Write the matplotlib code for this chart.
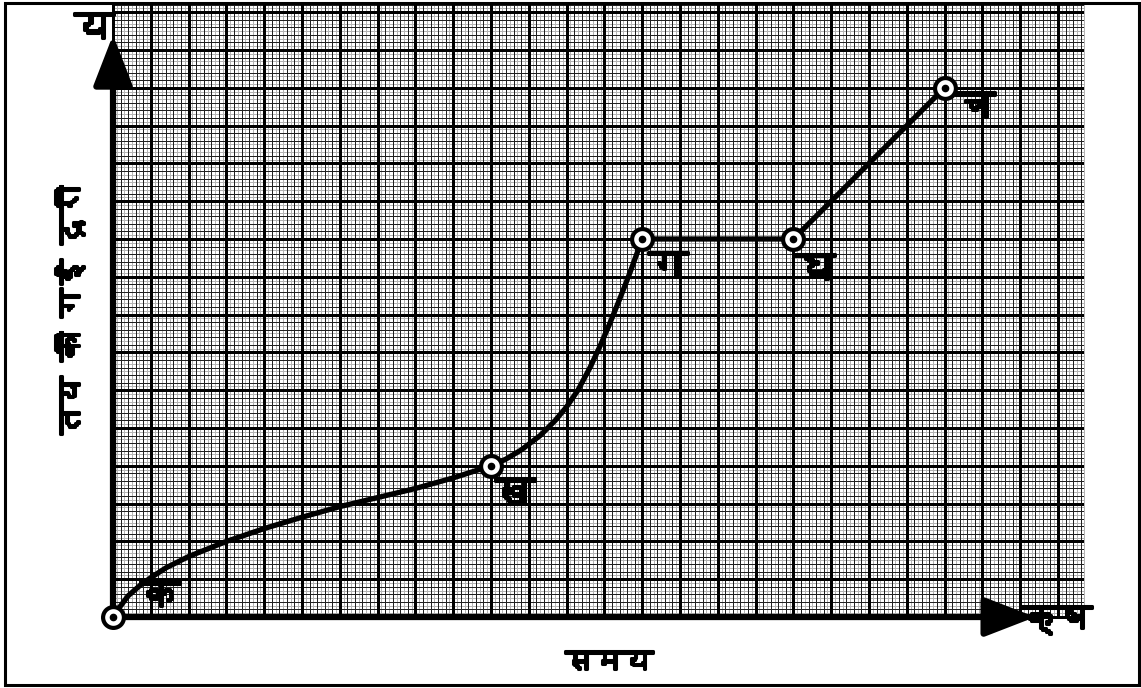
import matplotlib
matplotlib.use("Agg")
import matplotlib.pyplot as plt
from matplotlib import font_manager
from matplotlib.ft2font import FT2Font
from matplotlib.patches import Rectangle
import matplotlib.patheffects as pe

# curve (one unit = one big square)
curve_x = [0, 0.05, 0.2, 0.36, 0.5, 0.7, 1.0, 1.5, 2.0, 2.5, 3.0, 3.5, 4.0,
           4.5, 5.0, 5.2, 5.4, 5.65, 5.85, 6.0, 6.15, 6.31, 6.45, 6.57, 6.7,
           6.84, 7.0]
curve_y = [0, 0.08, 0.28, 0.42, 0.52, 0.65, 0.8, 1.0, 1.17, 1.32, 1.46, 1.58,
           1.7, 1.84, 2.0, 2.09, 2.21, 2.4, 2.6, 2.78, 3.0, 3.3, 3.6, 3.88,
           4.2, 4.56, 5.0]
line_x = [7, 9, 11]
line_y = [5, 5, 7]
point_x = [0, 5, 7, 9, 11]
point_y = [0, 2, 5, 5, 7]
point_names = ["क", "ख", "ग", "घ", "च"]
xlabel = "समय"
ylabel = "तय की गई दूरी"
x_axis_name = "क्ष"
y_axis_name = "य"


def deva_font():
    for f in font_manager.fontManager.ttflist:
        try:
            if 0x0915 in FT2Font(f.fname).get_charmap():
                return f.name
        except Exception:
            pass
    return None


fam = deva_font()
plt.rcParams['font.family'] = [fam, 'DejaVu Sans'] if fam else ['DejaVu Sans']

fig = plt.figure(figsize=(11.41, 6.88), dpi=100)
ax = fig.add_axes([0, 0, 1, 1])
ax.set_xlim(-1.495, 13.598)
ax.set_ylim(-0.939, 8.161)
ax.axis('off')

# graph paper
gx_max, gy_max = 12.83, 8.095
nx = int(round(gx_max / 0.05)) + 1
ny = int(round(gy_max / 0.05)) + 1
styles = {'thick': ('black', 2.0, 3), 'thin': ('#202020', 0.72, 2),
          'faint': ('#b4b4b4', 0.72, 1)}


def kind(i):
    if i % 10 == 0:
        return 'thick'
    return 'thin' if i % 2 == 0 else 'faint'


for i in range(nx):
    c, w, z = styles[kind(i)]
    ax.vlines(i * 0.05, 0, gy_max, color=c, lw=w, zorder=z, antialiased=False)
for j in range(ny):
    c, w, z = styles[kind(j)]
    ax.hlines(j * 0.05, 0, gx_max, color=c, lw=w, zorder=z, antialiased=False)

# axes with arrows
arrow = dict(arrowstyle='-|>,head_length=1.55,head_width=0.6', lw=4.5,
             color='black', mutation_scale=20, shrinkA=0, shrinkB=0)
ax.annotate('', xy=(0, 7.7), xytext=(0, 0), arrowprops=arrow, zorder=5)
ax.annotate('', xy=(12.2, 0), xytext=(0, 0), arrowprops=arrow, zorder=5)

# curve and straight part
ax.plot(curve_x, curve_y, color='black', lw=3.8, solid_capstyle='round',
        solid_joinstyle='round', zorder=6)
ax.plot(line_x, line_y, color='black', lw=3.8, solid_capstyle='round', zorder=6)
ax.plot(point_x, point_y, 'o', ms=15, mfc='white', mec='black', mew=3, zorder=7)
ax.plot(point_x, point_y, 'o', ms=4.5, color='black', zorder=8)

bold = [pe.withStroke(linewidth=2.2, foreground='black')]
offsets = [(0.62, 0.26), (0.32, -0.38), (0.34, -0.38), (0.29, -0.41), (0.4, -0.27)]
for px, py, name, (dx, dy) in zip(point_x, point_y, point_names, offsets):
    ax.text(px + dx, py + dy, name, fontsize=29, fontweight='bold',
            ha='center', va='center', zorder=9, path_effects=bold)

ax.text(-0.25, 7.78, y_axis_name, fontsize=29, fontweight='bold',
        ha='center', va='center', zorder=9, path_effects=bold)
ax.text(12.49, -0.04, x_axis_name, fontsize=25, fontweight='bold',
        ha='center', va='center', zorder=9, path_effects=bold)
ax.text(6.56, -0.6, xlabel, fontsize=21, fontweight='bold',
        ha='center', va='center', path_effects=bold)
ax.text(-0.57, 4.06, ylabel, fontsize=21, fontweight='bold',
        ha='center', va='center', rotation=90, path_effects=bold)

# outer frame
fig.patches.append(Rectangle((5 / 1141, 3 / 688), 1134 / 1141, 682 / 688,
                             transform=fig.transFigure, fill=False,
                             ec='black', lw=2.2))

fig.savefig('out.png', dpi=100)
